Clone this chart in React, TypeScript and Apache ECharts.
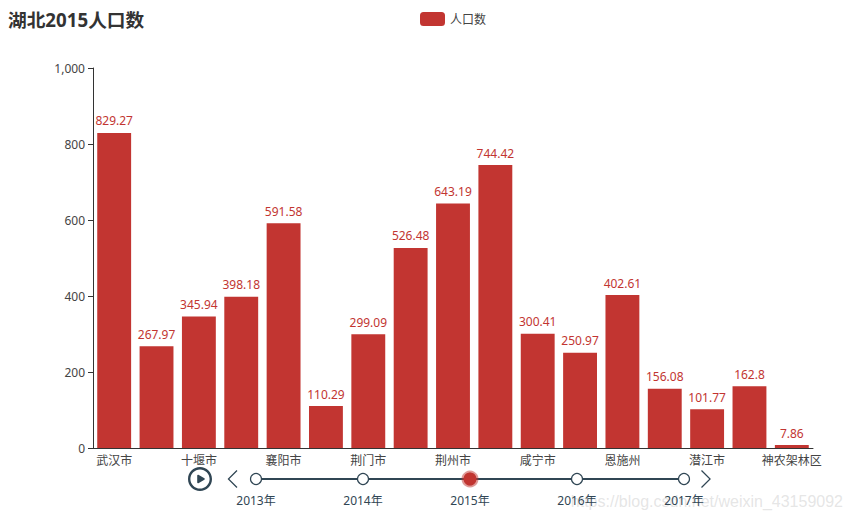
import React, { useEffect, useRef } from "react";
import * as echarts from "echarts";

const FONT = '"Noto Sans", "Noto Sans CJK SC", sans-serif';
const categories = ["武汉市","黄石市","十堰市","宜昌市","襄阳市","鄂州市","荆门市","孝感市","荆州市","黄冈市","咸宁市","随州市","恩施州","仙桃市","潜江市","天门市","神农架林区"];
const population = [829.27,267.97,345.94,398.18,591.58,110.29,299.09,526.48,643.19,744.42,300.41,250.97,402.61,156.08,101.77,162.8,7.86];
const years = ["2013年","2014年","2015年","2016年","2017年"];
const titleText = "湖北2015人口数";
const seriesName = "人口数";
const watermark = "https://blog.csdn.net/weixin_43159092";

const PREV_ICON = "path://M-4,12 L-4,12.01 L-3.99,12 Z M12,0 L0,12 L12,24 L13.2,22.8 L2.4,12 L13.2,1.2 Z";
const NEXT_ICON = "path://M-8,12 L-8,12.01 L-7.99,12 Z M1.2,0 L13.2,12 L1.2,24 L0,22.8 L10.8,12 L0,1.2 Z";

export default function App() {
  const ref = useRef<HTMLDivElement>(null);
  useEffect(() => {
    const chart = echarts.init(ref.current!, undefined, { renderer: "svg" });
    chart.setOption({
      animation: false,
      textStyle: { fontFamily: FONT },
      color: ["#c23531"],
      title: { text: titleText, left: 3, top: 5, textStyle: { fontSize: 18.7, fontWeight: "bold", color: "#333", fontFamily: FONT } },
      legend: { data: [seriesName], top: 7, left: 415, itemWidth: 25, itemHeight: 14, textStyle: { fontSize: 12, color: "#444", fontFamily: FONT } },
      grid: { left: 93, right: 38, top: 68, bottom: 72 },
      xAxis: {
        type: "category", data: categories,
        axisLabel: { interval: 1, fontSize: 12, color: "#444", fontFamily: FONT, margin: 6 },
        axisTick: { interval: 1, alignWithLabel: false, lineStyle: { color: "#333" } },
        axisLine: { lineStyle: { color: "#333" } },
      },
      yAxis: {
        type: "value", min: 0, max: 1000, interval: 200,
        axisLabel: { fontSize: 12, color: "#444", fontFamily: FONT, formatter: (v: number) => v.toLocaleString("en-US") },
        axisLine: { show: true, lineStyle: { color: "#333" } },
        axisTick: { show: true, lineStyle: { color: "#333" } },
        splitLine: { show: false },
      },
      timeline: {
        axisType: "category", data: years, currentIndex: 2, autoPlay: false,
        left: 173, right: 118, top: 452, height: 39,
        lineStyle: { color: "#304654", width: 2 },
        label: { color: "#304654", fontSize: 12, fontFamily: FONT },
        symbol: "emptyCircle", symbolSize: 11,
        itemStyle: { color: "#fff", borderColor: "#304654", borderWidth: 1.2 },
        checkpointStyle: { color: "#c23531", borderColor: "rgba(194,53,49,0.5)", borderWidth: 4, symbolSize: 13 },
        controlStyle: { color: "#304654", borderColor: "#304654", borderWidth: 0, itemSize: 24, itemGap: 10, prevIcon: PREV_ICON, nextIcon: NEXT_ICON },
        progress: { lineStyle: { color: "#304654" }, itemStyle: { color: "#fff", borderColor: "#304654" }, label: { color: "#304654" } },
      },
      series: [{
        name: seriesName, type: "bar", data: population, barCategoryGap: "20%",
        itemStyle: { color: "#c23531" },
        label: { show: true, position: "top", distance: 6, fontSize: 12, color: "#c23531", fontFamily: FONT },
      }],
      graphic: [{ type: "text", right: 8, top: 493, silent: true, style: { text: watermark, fontSize: 16, fontFamily: '"Liberation Sans", sans-serif', fill: "rgba(190,190,190,0.4)" } }],
    });
    return () => chart.dispose();
  }, []);
  return <div ref={ref} style={{ width: 851, height: 520, position: "absolute", left: 0, top: 0 }} />;
}
